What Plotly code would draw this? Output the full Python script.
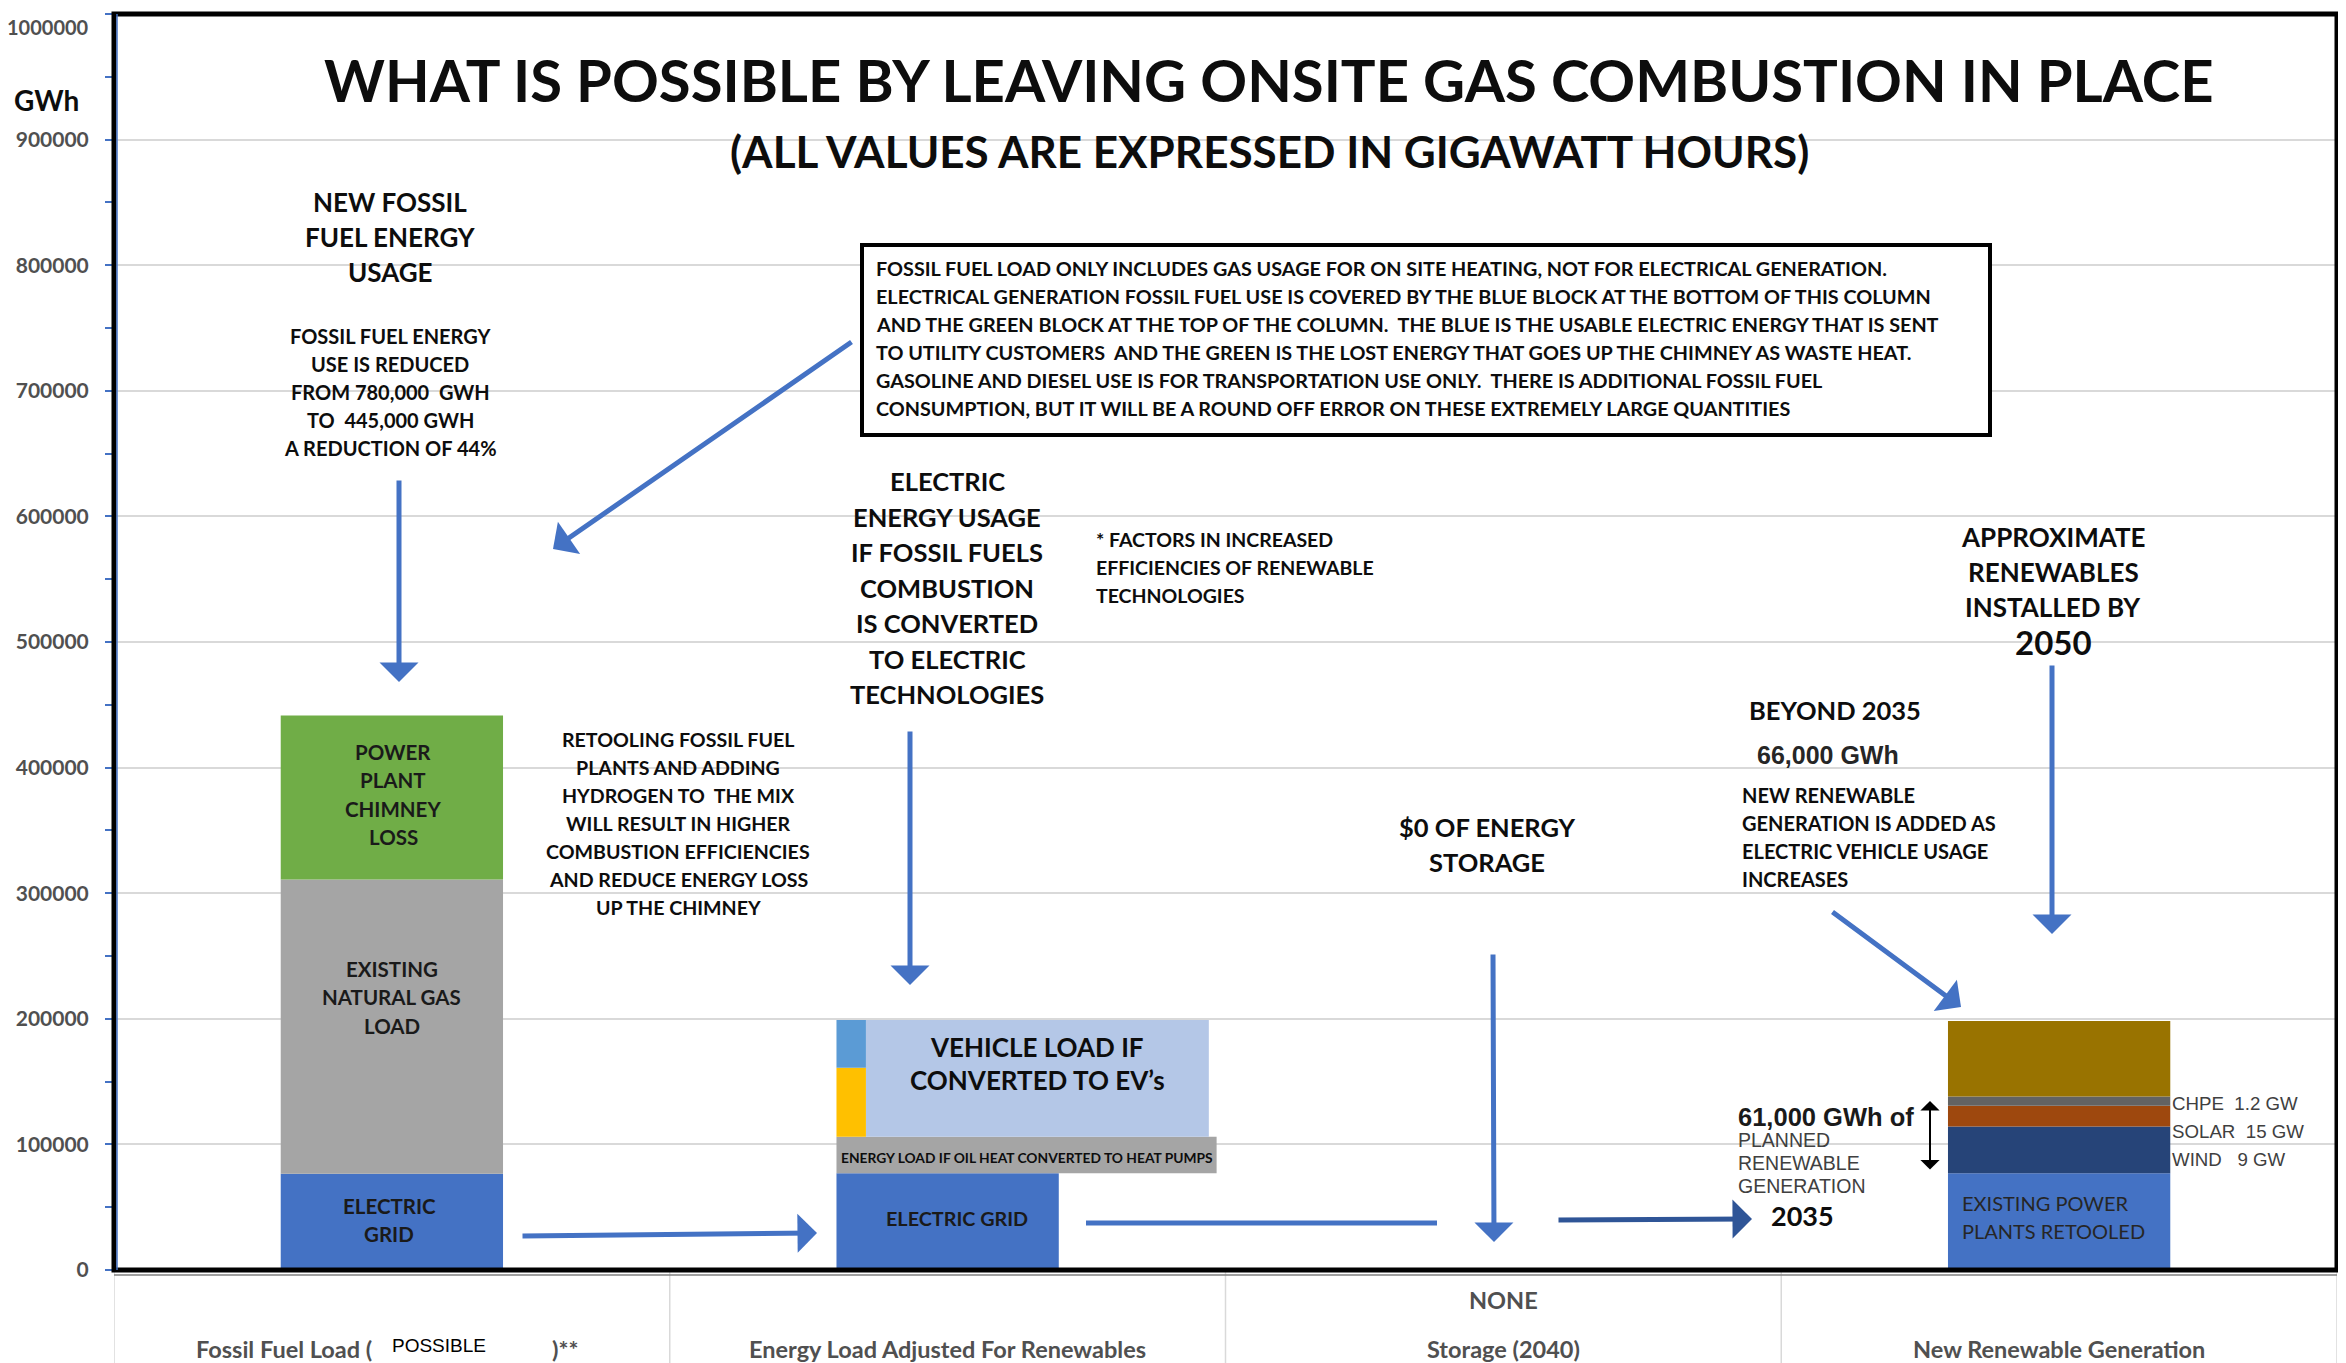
import numpy as np
import plotly.graph_objects as go

# ---- data (GWh) ----
categories = ["Fossil Fuel Load", "Energy Load Adjusted For Renewables",
              "Storage (2040)", "New Renewable Generation"]

fossil_names = ["ELECTRIC GRID", "EXISTING NATURAL GAS LOAD", "POWER PLANT CHIMNEY LOSS"]
fossil_values = [76600, 234400, 130400]

adjusted_names = ["ELECTRIC GRID", "HEAT PUMPS (OIL HEAT)", "VEHICLE LOAD (EV)"]
adjusted_values = [77000, 29000, 93000]
vehicle_split_names = ["EV part A", "EV part B"]
vehicle_split_values = [55000, 38000]

storage_values = [0]

renewable_names = ["EXISTING POWER PLANTS RETOOLED", "WIND 9 GW", "SOLAR 15 GW",
                   "CHPE 1.2 GW", "BEYOND 2035"]
renewable_values = [77000, 37300, 16500, 7300, 60200]

y_ticks = list(range(0, 1000001, 100000))

# ---- style ----
# page coordinates of the screenshot; the browser adds an 8px body margin
OFF = 8
W_FIG, H_FIG = 2346 - OFF, 1363 - OFF
L, R, T, B = 114, 2337, 14, 1270
FONT = "Lato, 'Open Sans', sans-serif"
ARIAL = "'Liberation Sans', Arial, sans-serif"
DARK = "#0D0D0D"
BLUE = "#4472C4"
LABEL_GRAY = "#505050"

fossil_colors = [BLUE, "#A5A5A5", "#70AD47"]
adjusted_colors = [BLUE, "#A5A5A5", "#B4C7E7"]
adjusted_geom = [(-0.2, 0.4), (-0.2, 0.684), (-0.147, 0.617)]
split_colors = ["#FFC000", "#5B9BD5"]
renewable_colors = [BLUE, "#264478", "#9E480E", "#636363", "#997300"]


def px(x):
    return (x - L) / (R - L)


def py(y):
    return (B - y) / (B - T)


fig = go.Figure()


def add_stack(cat, names, values, colors, geoms=None, start=0):
    bases = start + np.concatenate([[0], np.cumsum(values)[:-1]])
    for i, (n, v, c) in enumerate(zip(names, values, colors)):
        off, w = geoms[i] if geoms else (-0.2, 0.4)
        fig.add_trace(go.Bar(x=[cat], y=[v], base=[bases[i]], name=n,
                             marker=dict(color=c, line=dict(width=0)),
                             width=[w], offset=[off], hoverinfo="skip"))


add_stack(categories[0], fossil_names, fossil_values, fossil_colors)
add_stack(categories[1], adjusted_names, adjusted_values, adjusted_colors, adjusted_geom)
add_stack(categories[1], vehicle_split_names, vehicle_split_values, split_colors,
          [(-0.2, 0.053)] * 2, start=sum(adjusted_values[:2]))
add_stack(categories[2], ["STORAGE"], storage_values, ["#FFFFFF"])
add_stack(categories[3], renewable_names, renewable_values, renewable_colors)


def text(lines, x, y0, dy, size, anchor="center", bold=True, font=FONT, color=DARK):
    for k, line in enumerate(lines):
        fig.add_annotation(xref="paper", yref="paper", x=px(x), y=py(y0 + k * dy),
                           text=f"<b>{line}</b>" if bold else line, showarrow=False,
                           xanchor=anchor, yanchor="middle",
                           font=dict(family=font, size=size, color=color))


def arrow(x0, y0, x1, y1, color=BLUE, width=5, size=1.3, head=1, side="end"):
    fig.add_annotation(xref="paper", yref="paper", x=px(x1), y=py(y1),
                       ax=x0 - x1, ay=y0 - y1, axref="pixel", ayref="pixel",
                       text="", showarrow=True, arrowhead=head, startarrowhead=head,
                       arrowsize=size, startarrowsize=size, arrowwidth=width,
                       arrowcolor=color, arrowside=side, standoff=0, startstandoff=0)


# titles
text(["WHAT IS POSSIBLE BY LEAVING ONSITE GAS COMBUSTION IN PLACE"], 1269, 79, 0, 58)
text(["(ALL VALUES ARE EXPRESSED IN GIGAWATT HOURS)"], 1269, 151, 0, 44)
text(["GWh"], 46, 100, 0, 28)

# left column notes
text(["NEW FOSSIL", "FUEL ENERGY", "USAGE"], 390, 202, 35, 26)
text(["FOSSIL FUEL ENERGY", "USE IS REDUCED", "FROM 780,000  GWH",
      "TO  445,000 GWH", "A REDUCTION OF 44%"], 390, 336, 28, 20)
arrow(399, 479, 399, 682)
arrow(853, 341, 553, 549)

# note box
fig.add_shape(type="rect", xref="paper", yref="paper", x0=px(862), x1=px(1990),
              y0=py(435), y1=py(245), line=dict(color="black", width=4), fillcolor="white")
text(["FOSSIL FUEL LOAD ONLY INCLUDES GAS USAGE FOR ON SITE HEATING, NOT FOR ELECTRICAL GENERATION.",
      "ELECTRICAL GENERATION FOSSIL FUEL USE IS COVERED BY THE BLUE BLOCK AT THE BOTTOM OF THIS COLUMN",
      "AND THE GREEN BLOCK AT THE TOP OF THE COLUMN.  THE BLUE IS THE USABLE ELECTRIC ENERGY THAT IS SENT",
      "TO UTILITY CUSTOMERS  AND THE GREEN IS THE LOST ENERGY THAT GOES UP THE CHIMNEY AS WASTE HEAT.",
      "GASOLINE AND DIESEL USE IS FOR TRANSPORTATION USE ONLY.  THERE IS ADDITIONAL FOSSIL FUEL",
      "CONSUMPTION, BUT IT WILL BE A ROUND OFF ERROR ON THESE EXTREMELY LARGE QUANTITIES"],
     874, 268, 28, 19.8, anchor="left")

# middle notes
text(["ELECTRIC", "ENERGY USAGE", "IF FOSSIL FUELS", "COMBUSTION", "IS CONVERTED",
      "TO ELECTRIC", "TECHNOLOGIES"], 947, 481, 35.5, 25.5)
text(["* FACTORS IN INCREASED", "EFFICIENCIES OF RENEWABLE", "TECHNOLOGIES"],
     1094, 539, 28, 19.5, anchor="left")
text(["RETOOLING FOSSIL FUEL", "PLANTS AND ADDING", "HYDROGEN TO  THE MIX",
      "WILL RESULT IN HIGHER", "COMBUSTION EFFICIENCIES", "AND REDUCE ENERGY LOSS",
      "UP THE CHIMNEY"], 678, 739, 28, 19.6)
arrow(910, 730, 910, 985)

# bar labels
text(["POWER", "PLANT", "CHIMNEY", "LOSS"], 393, 752, 28.3, 20.5, color="#1A1A1A")
text(["EXISTING", "NATURAL GAS", "LOAD"], 392, 969, 28.3, 20.5, color="#1A1A1A")
text(["ELECTRIC", "GRID"], 389, 1206, 28.3, 20.5, color="#1A1A1A")
text(["VEHICLE LOAD IF", "CONVERTED TO EV\u2019s"], 1037, 1047, 33, 26)
text(["ENERGY LOAD IF OIL HEAT CONVERTED TO HEAT PUMPS"], 1027, 1157, 0, 13.8)
text(["ELECTRIC GRID"], 957, 1218, 0, 19.8, color="#1A1A1A")
text(["EXISTING POWER", "PLANTS RETOOLED"], 1960, 1203, 28, 20, anchor="left",
     bold=False, color="#262626")

# connectors along the bottom
arrow(521, 1236, 817, 1233)
fig.add_shape(type="line", xref="paper", yref="paper", x0=px(1086), x1=px(1437),
              y0=py(1223), y1=py(1223), line=dict(color=BLUE, width=5))
arrow(1493, 953, 1494, 1242)
arrow(1557, 1220, 1752, 1219, color="#2F5597")

# storage note
text(["$0 OF ENERGY", "STORAGE"], 1487, 827, 35, 25.5)

# renewables notes
text(["APPROXIMATE", "RENEWABLES", "INSTALLED BY"], 2053, 537, 35, 26)
text(["2050"], 2053, 642, 0, 33)
arrow(2052, 664, 2052, 934)
text(["BEYOND 2035"], 1835, 710, 0, 25.5)
text(["66,000 GWh"], 1828, 755, 0, 25, font=ARIAL, color="#262626")
text(["NEW RENEWABLE", "GENERATION IS ADDED AS", "ELECTRIC VEHICLE USAGE", "INCREASES"],
     1740, 795, 28, 20, anchor="left")
arrow(1831, 911, 1961, 1007)
text(["61,000 GWh of"], 1736, 1117, 0, 25.5, anchor="left", font=ARIAL, color="#1A1A1A")
text(["PLANNED", "RENEWABLE", "GENERATION"], 1736, 1140, 23, 19.5, anchor="left",
     bold=False, font=ARIAL, color="#404040")
text(["2035"], 1802, 1215, 0, 27)
arrow(1930, 1171, 1930, 1101, color="black", width=2, size=1.6, side="end+start")
text(["CHPE  1.2 GW", "SOLAR  15 GW", "WIND   9 GW"], 2170, 1103, 28, 18.7, anchor="left",
     bold=False, font=ARIAL, color="#404040")

# category labels under the axis
fig.add_annotation(xref="paper", yref="paper", x=px(374), y=py(1349), xanchor="right",
                   yanchor="middle", showarrow=False, text=f"<b>{categories[0]} (</b>",
                   font=dict(family=FONT, size=23.5, color=LABEL_GRAY))
fig.add_annotation(xref="paper", yref="paper", x=px(390), y=py(1345), xanchor="left",
                   yanchor="middle", showarrow=False, text="POSSIBLE",
                   font=dict(family=ARIAL, size=19, color="black"))
fig.add_annotation(xref="paper", yref="paper", x=px(550), y=py(1349), xanchor="left",
                   yanchor="middle", showarrow=False, text="<b>)**</b>",
                   font=dict(family=FONT, size=23.5, color=LABEL_GRAY))
for cat in categories[1:]:
    fig.add_annotation(xref="x", yref="paper", x=cat, y=py(1349), yanchor="middle",
                       showarrow=False, text=f"<b>{cat}</b>",
                       font=dict(family=FONT, size=23.5, color=LABEL_GRAY))
fig.add_annotation(xref="x", yref="paper", x=categories[2], y=py(1300), yanchor="middle",
                   showarrow=False, text="<b>NONE</b>",
                   font=dict(family=FONT, size=23.5, color=LABEL_GRAY))

# top tick label sits at the page edge: draw it a few px lower so it is not clipped
tick_text = [str(v) for v in y_ticks]
fig.add_annotation(xref="paper", yref="paper", x=px(91), y=py(27), xanchor="right",
                   yanchor="middle", showarrow=False, text=f"<b>{tick_text[-1]}</b>",
                   font=dict(family=FONT, size=20, color=LABEL_GRAY))
tick_text[-1] = ""

# category separators below the axis
for k in range(len(categories) + 1):
    fig.add_shape(type="line", xref="x", yref="paper", x0=k - 0.5, x1=k - 0.5,
                  y0=0, y1=py(1363), line=dict(color="#D9D9D9", width=1.5))

# frame
fig.add_shape(type="rect", xref="paper", yref="paper", x0=0, x1=1, y0=0, y1=1,
              line=dict(color="black", width=5))
fig.add_shape(type="line", xref="paper", yref="paper", x0=0, x1=1, y0=py(1275), y1=py(1275),
              line=dict(color="#7F7F7F", width=1.5))
fig.add_shape(type="line", xref="paper", yref="paper", x0=px(117), x1=px(117), y0=0, y1=1,
              line=dict(color=BLUE, width=1.5))

fig.update_layout(
    width=W_FIG, height=H_FIG, autosize=False,
    margin=dict(l=L - OFF, r=W_FIG - (R - OFF), t=T - OFF, b=H_FIG - (B - OFF)),
    paper_bgcolor="white", plot_bgcolor="white",
    barmode="overlay", showlegend=False,
    font=dict(family=FONT, size=20, color=DARK),
    xaxis=dict(type="category", categoryorder="array", categoryarray=categories,
               range=[-0.5, 3.5], showticklabels=False, showgrid=False, ticks="",
               zeroline=False, automargin=False),
    yaxis=dict(range=[0, 1000000], tickvals=y_ticks, ticktext=tick_text,
               showgrid=True, gridcolor="#D9D9D9", gridwidth=1.5, zeroline=False,
               ticks="outside", ticklen=8, tickwidth=2, tickcolor=BLUE,
               minor=dict(ticks="outside", ticklen=8, tickwidth=2, tickcolor=BLUE,
                          dtick=50000, showgrid=False),
               tickfont=dict(family=FONT, size=21, color=LABEL_GRAY, weight="bold"),
               ticklabelstandoff=12, ticklabeloverflow="allow",
               showline=False, automargin=False),
)

fig.write_html("out.html")
